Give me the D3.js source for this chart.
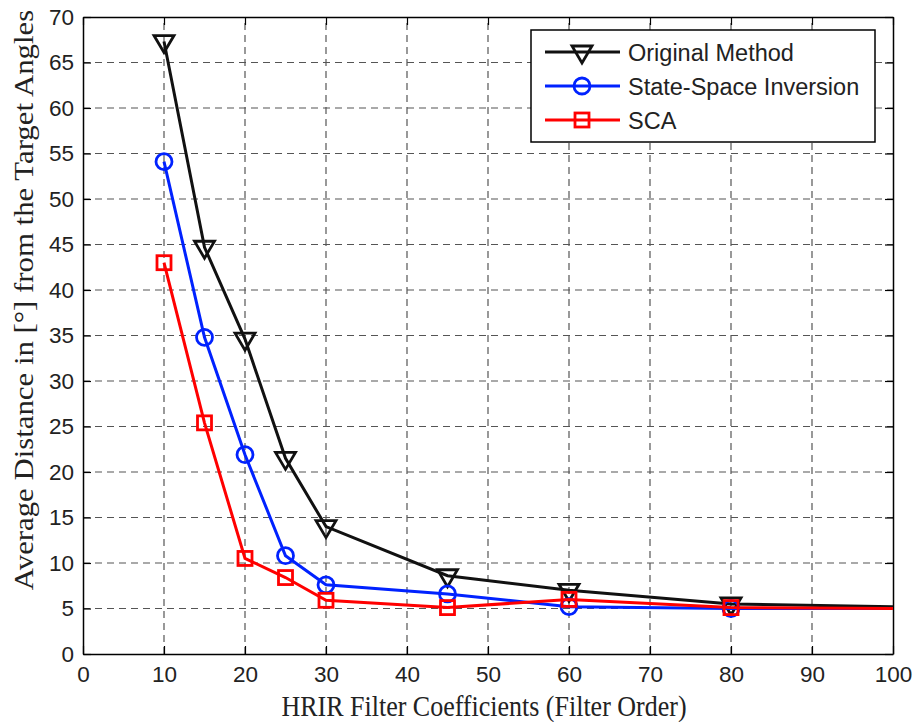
<!DOCTYPE html>
<html>
<head>
<meta charset="utf-8">
<script src="https://cdn.jsdelivr.net/npm/d3@7"></script>
<style>
  body { margin: 0; background: #fff; }
  svg { display: block; }
</style>
</head>
<body>
<svg id="chart" width="915" height="722"></svg>
<script>
// chart data
const filterOrders = [10, 15, 20, 25, 30, 45, 60, 80, 100];
const originalMethod = [67.3, 44.7, 34.6, 21.5, 14.0, 8.6, 7.0, 5.5, 5.2];
const stateSpaceInversion = [54.1, 34.8, 21.9, 10.8, 7.6, 6.6, 5.2, 5.0, 5.0];
const sca = [43.0, 25.4, 10.5, 8.4, 5.9, 5.1, 6.0, 5.1, 5.0];
const xTicks = [0, 10, 20, 30, 40, 50, 60, 70, 80, 90, 100];
const yTicks = [0, 5, 10, 15, 20, 25, 30, 35, 40, 45, 50, 55, 60, 65, 70];

const seriesList = [
  { name: "Original Method", values: originalMethod, color: "#111111", marker: "triangle" },
  { name: "State-Space Inversion", values: stateSpaceInversion, color: "#0022ff", marker: "circle" },
  { name: "SCA", values: sca, color: "#ff0000", marker: "square" },
];

const margin = { top: 17, right: 22, bottom: 68, left: 83 };
const width = 915, height = 722;
const svg = d3.select("#chart");

const x = d3.scaleLinear().domain([0, 100]).range([margin.left, width - margin.right]);
const y = d3.scaleLinear().domain([0, 70]).range([height - margin.bottom, margin.top]);

svg.append("rect").attr("width", width).attr("height", height).attr("fill", "#fff");

// grid (dashed)
const grid = svg.append("g").attr("stroke", "#555").attr("stroke-width", 1.2).attr("stroke-dasharray", "7,5");
xTicks.slice(1, -1).forEach(t => {
  grid.append("line").attr("x1", x(t)).attr("x2", x(t)).attr("y1", y(0)).attr("y2", y(70));
});
yTicks.slice(1, -1).forEach(t => {
  grid.append("line").attr("x1", x(0)).attr("x2", x(100)).attr("y1", y(t)).attr("y2", y(t));
});

// axes with inward ticks on all four sides
const sansFont = "Liberation Sans, Arial, sans-serif";
const serifFont = "Liberation Serif, Times New Roman, serif";
function styleAxis(g) {
  g.select(".domain").attr("stroke", "#000").attr("stroke-width", 1.5);
  g.selectAll(".tick line").attr("stroke", "#000").attr("stroke-width", 1.2);
  g.selectAll(".tick text").attr("font-family", sansFont).attr("font-size", 22.5).attr("fill", "#222");
}
svg.append("g").attr("transform", `translate(0,${y(0)})`)
  .call(d3.axisBottom(x).tickValues(xTicks).tickSizeInner(-8).tickSizeOuter(0).tickPadding(12))
  .call(styleAxis);
svg.append("g").attr("transform", `translate(0,${y(70)})`)
  .call(d3.axisTop(x).tickValues(xTicks).tickSizeInner(-8).tickSizeOuter(0).tickFormat(""))
  .call(styleAxis);
svg.append("g").attr("transform", `translate(${x(0)},0)`)
  .call(d3.axisLeft(y).tickValues(yTicks).tickSizeInner(-8).tickSizeOuter(0).tickPadding(9))
  .call(styleAxis);
svg.append("g").attr("transform", `translate(${x(100)},0)`)
  .call(d3.axisRight(y).tickValues(yTicks).tickSizeInner(-8).tickSizeOuter(0).tickFormat(""))
  .call(styleAxis);

// markers
function drawMarker(g, type, cx, cy, color) {
  if (type === "triangle") {
    const s = 10;
    g.append("path")
      .attr("d", `M${cx - s},${cy - 6} L${cx + s},${cy - 6} L${cx},${cy + 11} Z`)
      .attr("fill", "none").attr("stroke", color).attr("stroke-width", 2.8).attr("stroke-linejoin", "miter");
  } else if (type === "circle") {
    g.append("circle").attr("cx", cx).attr("cy", cy).attr("r", 8)
      .attr("fill", "none").attr("stroke", color).attr("stroke-width", 2.8);
  } else {
    g.append("rect").attr("x", cx - 7).attr("y", cy - 7).attr("width", 14).attr("height", 14)
      .attr("fill", "none").attr("stroke", color).attr("stroke-width", 2.8);
  }
}

const line = d3.line().x(d => x(d[0])).y(d => y(d[1]));
seriesList.forEach(s => {
  const pts = filterOrders.map((f, i) => [f, s.values[i]]);
  const g = svg.append("g");
  g.append("path").datum(pts).attr("d", line)
    .attr("fill", "none").attr("stroke", s.color).attr("stroke-width", 3);
  pts.slice(0, -1).forEach(p => drawMarker(g, s.marker, x(p[0]), y(p[1]), s.color));
});

// legend
const lg = svg.append("g");
lg.append("rect").attr("x", 531).attr("y", 30).attr("width", 344).attr("height", 112)
  .attr("fill", "#fff").attr("stroke", "#000").attr("stroke-width", 1.5);
seriesList.forEach((s, i) => {
  const ly = 52 + i * 34;
  lg.append("line").attr("x1", 545).attr("x2", 620).attr("y1", ly).attr("y2", ly)
    .attr("stroke", s.color).attr("stroke-width", 3);
  drawMarker(lg, s.marker, 582, ly, s.color);
  lg.append("text").attr("x", 628).attr("y", ly + 8.5)
    .attr("font-family", sansFont).attr("font-size", 23.5).attr("fill", "#222").text(s.name);
});

// axis titles (the reference is slightly stretched vertically)
svg.append("g").attr("transform", `translate(${(x(0) + x(100)) / 2 - 4},716) scale(1,1.15)`)
  .append("text").attr("text-anchor", "middle").attr("font-family", serifFont)
  .attr("font-size", 26).attr("fill", "#222").text("HRIR Filter Coefficients (Filter Order)");
svg.append("g").attr("transform", `translate(33,300) scale(1,1.1) rotate(-90)`)
  .append("text").attr("text-anchor", "middle").attr("font-family", serifFont)
  .attr("font-size", 28).attr("fill", "#222").text("Average Distance in [°] from the Target Angles");
</script>
</body>
</html>
